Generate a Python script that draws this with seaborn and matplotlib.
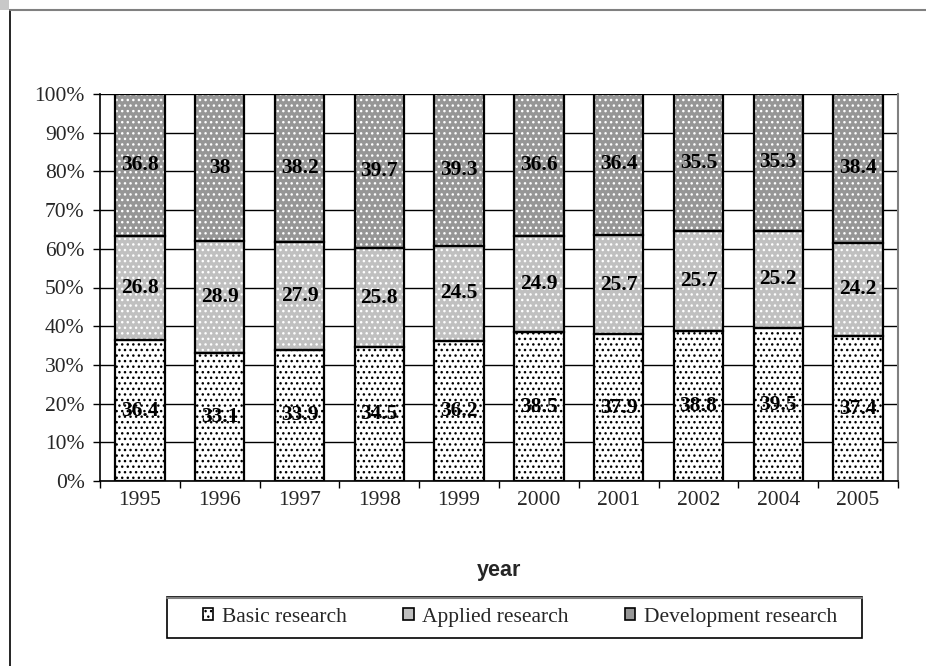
import numpy as np
import matplotlib
matplotlib.use("Agg")
import matplotlib.pyplot as plt
import seaborn as sns
from matplotlib.patches import Patch, Rectangle
from matplotlib.lines import Line2D

years = ["1995", "1996", "1997", "1998", "1999", "2000", "2001", "2002", "2004", "2005"]
basic = [36.4, 33.1, 33.9, 34.5, 36.2, 38.5, 37.9, 38.8, 39.5, 37.4]
applied = [26.8, 28.9, 27.9, 25.8, 24.5, 24.9, 25.7, 25.7, 25.2, 24.2]
development = [36.8, 38.0, 38.2, 39.7, 39.3, 36.6, 36.4, 35.5, 35.3, 38.4]
series_names = ["Basic research", "Applied research", "Development research"]

sns.set_theme(style="white")
plt.rcParams["font.family"] = ["Liberation Serif", "DejaVu Serif"]
plt.rcParams["hatch.linewidth"] = 1.0

basic_a = np.array(basic)
applied_a = np.array(applied)
dev_a = np.array(development)
total = basic_a + applied_a + dev_a
# percent stacking
b_pct = basic_a / total * 100
a_pct = applied_a / total * 100
d_pct = dev_a / total * 100

layers = [
    (b_pct, np.zeros(len(years)), "#ffffff", "#000000"),
    (a_pct, b_pct, "#c0c0c0", "#ffffff"),
    (d_pct, b_pct + a_pct, "#969696", "#ffffff"),
]

fig = plt.figure(figsize=(9.26, 6.66), dpi=100)
ax = fig.add_axes([100 / 926, 1 - 481 / 666, 798 / 926, 387 / 666])

fs = 15.5
bar_w = 0.62
for vals, bottom, face, hcol in layers:
    sns.barplot(x=years, y=vals, bottom=bottom, color=face, saturation=1,
                edgecolor=hcol, hatch="...", linewidth=0, width=bar_w, ax=ax,
                zorder=2)
    sns.barplot(x=years, y=vals, bottom=bottom, fill=False, color="black",
                edgecolor="black", linewidth=1.6, width=bar_w, ax=ax, zorder=3)

raw = [basic, applied, development]
lows = [np.zeros(len(years)), b_pct, b_pct + a_pct]
pcts = [b_pct, a_pct, d_pct]
for r, lo, p in zip(raw, lows, pcts):
    for i, v in enumerate(r):
        txt = f"{v:g}"
        ax.text(i, lo[i] + p[i] / 2, txt, ha="center", va="center",
                fontsize=fs, fontweight="bold", color="black", zorder=4)

ax.set_ylim(0, 100)
ax.set_xlim(-0.5, len(years) - 0.5)
ax.set_yticks(np.arange(0, 101, 10))
ax.set_yticklabels([f"{t}%" for t in range(0, 101, 10)], fontsize=fs)
ax.set_xticks(range(len(years)))
ax.set_xticklabels(years, fontsize=fs)
ax.set_xticks(np.arange(-0.5, len(years), 1), minor=True)
ax.tick_params(axis="x", which="major", length=0, pad=7)
ax.tick_params(axis="x", which="minor", length=5, width=1, color="black",
               direction="out", bottom=True)
ax.tick_params(axis="y", which="major", length=5, width=1, color="black",
               direction="out", left=True, pad=6)
ax.yaxis.grid(True, color="black", linewidth=1.0, zorder=0)
ax.xaxis.grid(False)
ax.set_axisbelow(True)
ax.set_ylabel("")

for side in ["left", "bottom"]:
    ax.spines[side].set_color("black")
    ax.spines[side].set_linewidth(1.2)
for side in ["top", "right"]:
    ax.spines[side].set_color("#808080")
    ax.spines[side].set_linewidth(1.5)
ax.spines["top"].set_visible(False)

ax.set_xlabel("year", fontsize=fs, fontweight="bold",
              family=["Liberation Sans", "DejaVu Sans"])
ax.xaxis.set_label_coords(0.5, -0.205)

handles = [
    Patch(facecolor="#ffffff", edgecolor="black", hatch="...", linewidth=1.2),
    Patch(facecolor="#c0c0c0", edgecolor="black", linewidth=1.2),
    Patch(facecolor="#969696", edgecolor="black", linewidth=1.2),
]
# legend box drawn separately, entries centered inside it
fig.add_artist(Rectangle((167 / 926, 1 - 638 / 666), 695 / 926, 41 / 666,
                         transform=fig.transFigure, facecolor="white",
                         edgecolor="black", linewidth=1.2))
fig.add_artist(Line2D([167 / 926, 862 / 926], [1 - 597.5 / 666, 1 - 597.5 / 666],
                      transform=fig.transFigure, color="#808080", linewidth=1.5))
leg = fig.legend(handles, series_names, loc="center", ncol=3,
                 bbox_to_anchor=(520 / 926, 1 - 617.5 / 666),
                 fontsize=fs, frameon=False,
                 handlelength=0.5, handleheight=0.5,
                 handletextpad=0.4, columnspacing=2.6, borderpad=0.3,
                 borderaxespad=0)

# outer chart frame
fig.add_artist(Rectangle((0, 1 - 10 / 666), 9 / 926, 10 / 666,
                         transform=fig.transFigure, facecolor="#c8c8c8",
                         edgecolor="none"))
fig.add_artist(Line2D([9.5 / 926, 9.5 / 926], [0, 1 - 10 / 666],
                      transform=fig.transFigure, color="black", linewidth=1.2))
fig.add_artist(Line2D([9.5 / 926, 1], [1 - 10 / 666, 1 - 10 / 666],
                      transform=fig.transFigure, color="#808080", linewidth=1.5))

fig.savefig("out.png", dpi=100)
